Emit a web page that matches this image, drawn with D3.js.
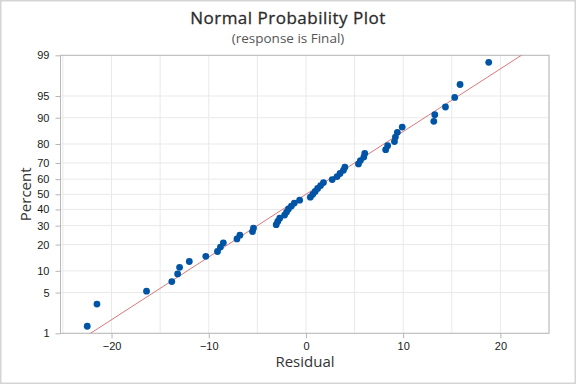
<!DOCTYPE html>
<meta charset="utf-8">
<style>
body { margin: 0; background: #fff; }
svg { font-family: "Open Sans", "Noto Sans", sans-serif; }
.tick text { font-size: 11px; fill: #1a1a1a; }
</style>
<svg width="576" height="384"></svg>
<script src="https://d3js.org/d3.v7.min.js"></script>
<script>
// residuals, sorted
var residuals = [-22.5, -21.5, -16.4, -13.8, -13.2, -13.0, -12.0, -10.3, -9.1, -8.8,
  -8.5, -7.1, -6.8, -5.5, -5.4, -3.06, -2.9, -2.7, -2.2, -2.0,
  -1.8, -1.5, -1.2, -0.65, 0.45, 0.7, 0.95, 1.2, 1.5, 1.8,
  2.7, 3.2, 3.5, 3.85, 4.0, 5.4, 5.6, 5.95, 6.05, 8.2,
  8.4, 9.1, 9.2, 9.4, 9.9, 13.15, 13.25, 14.35, 15.3, 15.85, 18.8];
var percentTicks = [1, 5, 10, 20, 30, 40, 50, 60, 70, 80, 90, 95, 99];
var xTicks = [-20, -10, 0, 10, 20];
var xGrid = [-25, -20, -15, -10, -5, 0, 5, 10, 15, 20, 25];

var svg = d3.select("svg"),
    width = +svg.attr("width"),
    height = +svg.attr("height");
var plotLeft = 60.5, plotRight = 549, plotTop = 55.3, plotBottom = 333.3;

// inverse normal cdf (Acklam)
function probit(p) {
  var a = [-39.69683028665376, 220.9460984245205, -275.9285104469687, 138.357751867269, -30.66479806614716, 2.506628277459239],
      b = [-54.47609879822406, 161.5858368580409, -155.6989798598866, 66.80131188771972, -13.28068155288572],
      c = [-0.007784894002430293, -0.3223964580411365, -2.400758277161838, -2.549732539343734, 4.374664141464968, 2.938163982698783],
      d = [0.007784695709041462, 0.3224671290700398, 2.445134137142996, 3.754408661907416];
  var q, r;
  if (p < 0.02425) {
    q = Math.sqrt(-2 * Math.log(p));
    return (((((c[0]*q+c[1])*q+c[2])*q+c[3])*q+c[4])*q+c[5]) / ((((d[0]*q+d[1])*q+d[2])*q+d[3])*q+1);
  } else if (p > 1 - 0.02425) {
    q = Math.sqrt(-2 * Math.log(1 - p));
    return -(((((c[0]*q+c[1])*q+c[2])*q+c[3])*q+c[4])*q+c[5]) / ((((d[0]*q+d[1])*q+d[2])*q+d[3])*q+1);
  }
  q = p - 0.5; r = q * q;
  return (((((a[0]*r+a[1])*r+a[2])*r+a[3])*r+a[4])*r+a[5])*q / (((((b[0]*r+b[1])*r+b[2])*r+b[3])*r+b[4])*r+1);
}

var x = d3.scaleLinear().domain([-25.25, 25]).range([plotLeft, plotRight]);
var y = d3.scaleLinear().domain([probit(0.01), probit(0.99)]).range([plotBottom, plotTop]);

// outer frame
svg.append("rect")
  .attr("x", 0.5).attr("y", 0.5)
  .attr("width", width - 1).attr("height", height - 1)
  .attr("fill", "none").attr("stroke", "#d4d4d4").attr("stroke-width", 2);

// grid
svg.append("g").selectAll("line").data(xGrid)
  .enter().append("line")
  .attr("x1", function(d) { return x(d); }).attr("x2", function(d) { return x(d); })
  .attr("y1", plotTop).attr("y2", plotBottom)
  .attr("stroke", "#e9e9e9");
svg.append("g").selectAll("line").data(percentTicks)
  .enter().append("line")
  .attr("x1", plotLeft).attr("x2", plotRight)
  .attr("y1", function(d) { return y(probit(d / 100)); })
  .attr("y2", function(d) { return y(probit(d / 100)); })
  .attr("stroke", "#e9e9e9");

// axes
var yAxis = d3.axisLeft(y)
  .tickValues(percentTicks.map(function(d) { return probit(d / 100); }))
  .tickFormat(function(d, i) { return percentTicks[i]; })
  .tickSize(5).tickPadding(6);
var xAxis = d3.axisBottom(x).tickValues(xTicks).tickSize(5).tickPadding(4)
  .tickFormat(d3.format("d"));

var gy = svg.append("g").attr("transform", "translate(" + plotLeft + ",0)").call(yAxis);
var gx = svg.append("g").attr("transform", "translate(0," + plotBottom + ")").call(xAxis);
[gx, gy].forEach(function(g) {
  g.select(".domain").remove();
  g.selectAll(".tick line").attr("stroke", "#b5b5b5");
});

// plot border
svg.append("rect")
  .attr("x", plotLeft).attr("y", plotTop)
  .attr("width", plotRight - plotLeft).attr("height", plotBottom - plotTop)
  .attr("fill", "none").attr("stroke", "#b8b8b8");

// fitted normal line
var n = residuals.length;
var mu = d3.mean(residuals), sd = d3.deviation(residuals);
svg.append("clipPath").attr("id", "clip")
  .append("rect").attr("x", plotLeft).attr("y", plotTop)
  .attr("width", plotRight - plotLeft).attr("height", plotBottom - plotTop);
var zLo = probit(0.001), zHi = probit(0.999);
svg.append("line")
  .attr("clip-path", "url(#clip)")
  .attr("x1", x(mu + zLo * sd)).attr("y1", y(zLo))
  .attr("x2", x(mu + zHi * sd)).attr("y2", y(zHi))
  .attr("stroke", "#d9787c").attr("stroke-width", 1);

// points with median ranks
svg.append("g").selectAll("circle").data(residuals)
  .enter().append("circle")
  .attr("cx", function(d) { return x(d); })
  .attr("cy", function(d, i) { return y(probit((i + 1 - 0.3) / (n + 0.4))); })
  .attr("r", 3.4)
  .attr("fill", "#0054a6");

// titles
svg.append("text").attr("x", 288).attr("y", 24)
  .attr("text-anchor", "middle").attr("font-size", 17)
  .attr("fill", "#2b2b2b").style("letter-spacing", "0.5px")
  .attr("stroke", "#2b2b2b").attr("stroke-width", 0.3)
  .text("Normal Probability Plot");
svg.append("text").attr("x", 288).attr("y", 43)
  .attr("text-anchor", "middle").attr("font-size", 13.5)
  .attr("fill", "#555")
  .text("(response is Final)");
svg.append("text").attr("x", 305).attr("y", 367)
  .attr("text-anchor", "middle").attr("font-size", 15)
  .attr("fill", "#333")
  .text("Residual");
svg.append("text")
  .attr("transform", "translate(31," + ((plotTop + plotBottom) / 2) + ") rotate(-90)")
  .attr("text-anchor", "middle").attr("font-size", 15)
  .attr("fill", "#333")
  .text("Percent");
</script>
